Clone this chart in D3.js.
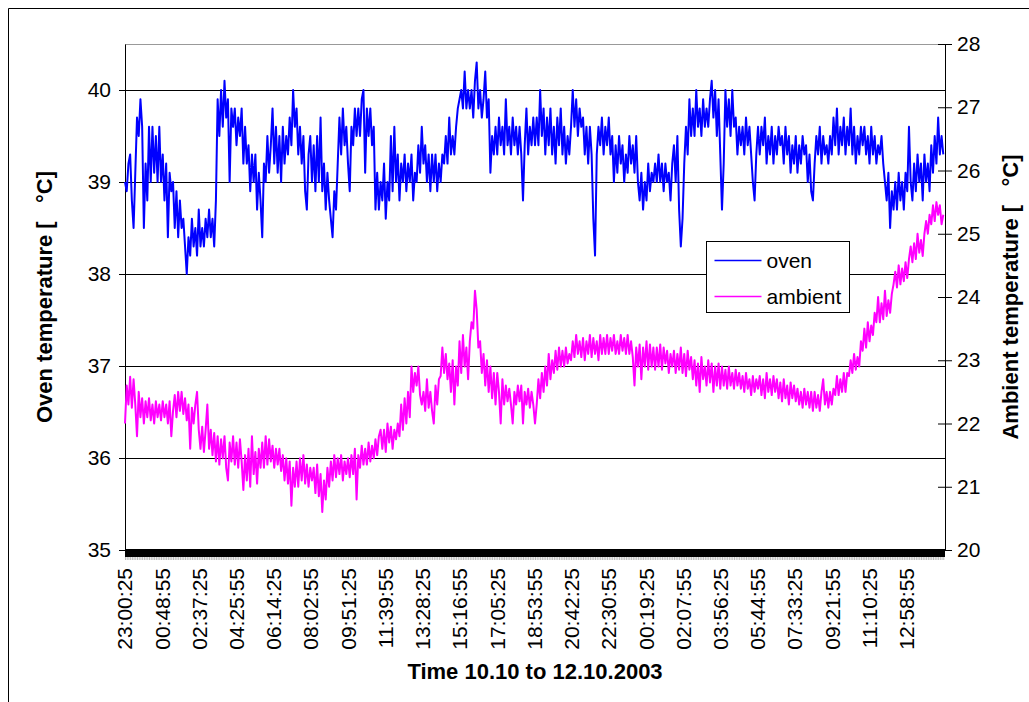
<!DOCTYPE html>
<html>
<head>
<meta charset="utf-8">
<script src="https://cdn.jsdelivr.net/npm/d3@7"></script>
<style>
  body { margin: 0; background: #fff; }
  text { font-family: "Liberation Sans", Arial, sans-serif; }
</style>
</head>
<body>
<svg id="chart" width="1029" height="702"></svg>
<script>
// category labels on the time axis (one every 1h48m30s)
const timeLabels = ["23:00:25","00:48:55","02:37:25","04:25:55","06:14:25","08:02:55","09:51:25",
  "11:39:55","13:28:25","15:16:55","17:05:25","18:53:55","20:42:25","22:30:55","00:19:25",
  "02:07:55","03:56:25","05:44:55","07:33:25","09:21:55","11:10:25","12:58:55"];
const labelStepMin = 108.5;
const sampleStepMin = 5;   // one reading every 5 min
const spanMin = 2390;

const ovenTicks = [35, 36, 37, 38, 39, 40];
const ambientTicks = [20, 21, 22, 23, 24, 25, 26, 27, 28];

// oven temperature, degC
const oven = [
  39.0,38.9,39.2,39.3,38.8,38.5,39.1,39.7,39.5,39.9,
  39.6,38.5,39.2,38.8,39.6,39.0,39.6,39.1,39.5,39.0,
  39.6,39.0,39.3,38.8,39.2,38.4,39.1,38.9,39.0,38.5,
  38.9,38.4,38.8,38.5,38.6,38.3,38.0,38.4,38.2,38.6,
  38.3,38.5,38.2,38.7,38.3,38.5,38.3,38.6,38.4,38.7,
  38.4,38.6,38.3,38.8,39.9,39.5,40.0,39.6,40.1,39.7,
  39.9,39.0,39.8,39.6,39.8,39.4,39.7,39.5,39.8,39.2,
  39.6,39.2,39.4,38.9,39.3,39.0,39.3,38.7,39.1,38.8,
  38.4,39.2,39.0,39.5,39.1,39.4,39.8,39.2,39.6,39.1,
  39.5,39.0,39.6,39.2,39.5,39.3,39.7,39.4,40.0,39.6,
  39.8,39.3,39.6,39.2,39.5,38.9,38.7,39.3,39.5,39.0,
  39.4,38.9,39.5,39.0,39.7,38.9,39.2,38.7,39.1,38.8,
  38.6,38.4,38.9,38.7,39.2,39.7,39.3,39.8,39.4,39.6,
  39.2,38.9,39.6,39.4,39.8,39.5,39.8,39.5,39.9,40.0,
  39.1,39.8,39.5,39.8,39.4,39.6,38.7,39.1,38.7,39.0,
  38.8,39.2,38.6,39.0,38.8,39.5,38.9,39.6,39.0,39.3,
  38.8,39.2,39.0,39.3,38.9,39.2,39.0,39.3,38.8,39.1,
  39.0,39.4,39.1,39.6,39.2,39.4,39.0,39.3,38.9,39.3,
  39.0,39.3,38.9,39.2,39.0,39.3,39.2,39.5,39.2,39.7,
  39.3,39.5,39.3,39.6,39.8,39.9,40.0,39.8,40.2,39.8,
  40.0,39.8,40.0,39.7,40.1,40.3,39.8,40.0,39.7,39.9,
  40.2,39.7,39.9,39.1,39.5,39.3,39.6,39.3,39.7,39.4,
  39.6,39.3,39.9,39.4,39.6,39.3,39.7,39.4,39.6,39.3,
  39.6,39.3,38.8,39.4,39.8,39.3,39.6,39.4,39.7,39.4,
  39.7,39.4,40.0,39.5,39.8,39.3,39.7,39.4,39.8,39.3,
  39.6,39.2,39.7,39.4,39.8,39.3,39.6,39.2,39.5,39.3,
  39.6,40.0,39.6,39.9,39.5,39.8,39.6,39.7,39.3,39.6,
  39.2,39.6,39.3,38.6,38.2,39.3,39.6,39.4,39.7,39.3,
  39.6,39.4,39.7,39.3,39.5,39.0,39.4,39.1,39.5,39.2,
  39.4,39.0,39.3,39.1,39.5,39.2,39.4,39.1,39.5,39.0,
  38.8,39.1,38.7,39.0,38.8,39.2,38.9,39.1,39.0,39.2,
  39.0,39.3,39.0,39.2,38.9,39.2,39.0,39.1,38.8,39.2,
  39.4,39.0,39.5,38.7,38.3,38.6,39.2,39.6,39.3,39.9,
  39.5,39.8,39.5,40.0,39.6,39.8,39.5,39.9,39.6,39.8,
  39.6,39.9,40.1,39.7,40.0,39.5,39.9,39.3,38.7,39.2,
  40.0,39.6,39.9,39.5,40.0,39.6,39.7,39.3,39.6,39.4,
  39.6,39.3,39.7,39.4,39.6,39.3,39.0,38.8,39.3,39.6,
  39.3,39.6,39.4,39.7,39.2,39.5,39.3,39.6,39.2,39.5,
  39.3,39.6,39.4,39.5,39.2,39.6,39.3,39.5,39.1,39.4,
  39.2,39.5,39.1,39.4,39.2,39.5,39.3,39.4,39.0,39.3,
  38.9,38.8,39.2,39.5,39.3,39.6,39.2,39.5,39.3,39.4,
  39.2,39.5,39.3,39.7,39.4,39.8,39.3,39.6,39.4,39.7,
  39.3,39.6,39.4,39.8,39.3,39.6,39.2,39.5,39.3,39.6,
  39.4,39.6,39.3,39.5,39.2,39.6,39.3,39.5,39.2,39.4,
  39.3,39.5,39.2,39.0,38.8,39.1,38.5,38.9,38.7,39.0,
  38.7,39.1,38.8,39.0,38.7,39.1,38.9,39.6,39.0,38.8,
  39.2,38.9,39.3,39.0,39.2,38.8,39.3,39.0,39.2,38.9,
  39.4,39.1,39.5,39.2,39.7,39.3,39.5,39.3
];

// ambient temperature, degC
const ambient = [
  22.0,22.6,22.3,22.74,22.25,22.7,22.3,21.8,22.5,22.1,
  22.4,22.0,22.35,22.1,22.4,22.05,22.3,22.0,22.35,22.1,
  22.3,22.05,22.35,22.1,22.3,22.0,22.35,21.8,22.2,22.45,
  22.1,22.5,22.2,22.5,22.15,22.4,22.05,22.3,21.6,22.25,
  22.0,22.3,22.5,21.9,21.6,21.95,21.55,21.9,22.3,21.6,
  21.9,21.5,21.85,21.4,21.8,21.35,21.75,21.45,21.8,21.3,
  21.1,21.7,21.4,21.8,21.35,21.7,21.3,21.75,21.4,20.95,
  21.5,21.1,21.6,21.0,21.8,21.2,21.55,21.05,21.6,21.3,
  21.7,21.3,21.8,21.35,21.75,21.4,21.65,21.3,21.6,21.35,
  21.6,21.25,21.5,21.1,21.45,21.05,21.4,20.7,21.3,21.0,
  21.4,21.0,21.45,21.1,21.5,21.05,21.35,21.0,21.3,21.1,
  21.3,20.9,21.35,20.85,21.2,20.6,21.1,20.8,21.3,21.0,
  21.4,21.1,21.5,21.15,21.45,21.2,21.5,21.1,21.4,21.2,
  21.45,21.15,21.5,21.2,21.6,20.8,21.5,21.3,21.65,21.35,
  21.6,21.35,21.7,21.4,21.65,21.45,21.75,21.5,21.8,21.9,
  21.6,21.9,21.55,22.0,21.7,21.95,21.6,21.9,21.75,22.0,
  21.8,22.3,21.9,22.4,22.0,22.5,22.1,22.9,22.5,22.8,
  22.6,22.9,22.45,22.3,22.5,22.2,22.7,22.25,22.5,22.2,
  22.0,22.6,22.3,22.7,22.75,23.2,22.8,23.1,22.7,22.95,
  22.5,23.0,22.3,22.9,22.6,23.3,22.8,23.4,22.9,23.2,
  22.7,23.3,23.6,23.5,24.1,23.8,23.2,23.3,22.8,23.1,
  22.6,23.0,22.5,22.9,22.4,22.8,22.3,22.8,22.5,22.0,
  22.7,22.3,22.6,22.35,22.55,22.3,22.0,22.5,22.3,22.6,
  22.35,22.6,22.0,22.5,22.3,22.55,22.25,22.5,22.3,22.0,
  22.3,22.7,22.4,22.8,22.5,22.9,22.6,23.1,22.7,23.0,
  22.8,23.15,22.85,23.2,22.9,23.15,22.9,23.2,22.95,23.1,
  23.0,23.3,23.05,23.4,23.1,23.3,23.05,23.35,23.0,23.3,
  23.1,23.4,23.05,23.35,23.1,23.3,23.0,23.4,23.1,23.35,
  23.1,23.4,23.1,23.35,23.15,23.4,23.1,23.3,23.1,23.4,
  23.15,23.35,23.1,23.4,23.1,23.3,23.05,22.6,23.2,22.9,
  23.25,22.7,23.2,22.9,23.3,22.85,23.25,22.9,23.2,22.85,
  23.2,22.9,23.25,22.85,23.2,22.95,23.15,22.8,23.1,22.9,
  23.15,22.8,23.1,22.85,23.2,22.8,23.1,22.75,23.15,22.85,
  23.05,22.7,23.0,22.6,22.95,22.5,23.05,22.7,22.9,22.6,
  23.0,22.65,22.95,22.5,22.9,22.6,22.95,22.55,22.9,22.6,
  22.85,22.55,22.9,22.6,22.8,22.55,22.85,22.6,22.8,22.55,
  22.75,22.5,22.8,22.55,22.7,22.45,22.75,22.5,22.7,22.55,
  22.75,22.45,22.7,22.4,22.8,22.5,22.7,22.45,22.75,22.5,
  22.7,22.4,22.65,22.35,22.7,22.4,22.6,22.3,22.65,22.4,
  22.6,22.35,22.55,22.3,22.5,22.25,22.55,22.3,22.5,22.25,
  22.5,22.2,22.5,22.25,22.45,22.2,22.5,22.7,22.3,22.5,
  22.25,22.5,22.3,22.55,22.45,22.75,22.45,22.7,22.5,22.8,
  22.5,22.8,22.75,23.0,22.8,23.1,22.85,23.05,22.9,23.3,
  23.15,23.5,23.2,23.6,23.3,23.55,23.4,23.75,23.6,24.0,
  23.6,23.9,23.65,24.1,23.7,23.95,23.75,24.05,24.2,24.4,
  24.15,24.5,24.2,24.45,24.25,24.55,24.3,24.6,24.8,24.55,
  24.85,24.6,25.0,24.7,24.9,24.65,25.0,25.2,25.0,25.3,
  25.15,25.45,25.2,25.5,25.3,25.45,25.15,25.3
];

const margin = {top: 44, right: 84, bottom: 152, left: 125};
const svg = d3.select('#chart');
const width = +svg.attr('width') - margin.left - margin.right;
const height = +svg.attr('height') - margin.top - margin.bottom;

// outer chart frame (only top and left edges are inside the picture)
svg.append('path')
  .attr('d', 'M8.5,702V8.5H1029')
  .attr('fill', 'none').attr('stroke', '#000');

const g = svg.append('g')
  .attr('transform', 'translate(' + margin.left + ',' + margin.top + ')');

const x = d3.scaleLinear().domain([0, spanMin]).range([0, width]);
const yOven = d3.scaleLinear().domain([35, 40.5]).range([height, 0]);
const yAmb = d3.scaleLinear().domain([20, 28]).range([height, 0]);

// plot area top edge
g.append('line')
  .attr('x1', 0).attr('x2', width).attr('y1', 0.5).attr('y2', 0.5)
  .attr('stroke', '#999');

// gridlines
g.selectAll('.grid').data(ovenTicks.filter(d => d > 35))
  .enter().append('line')
  .attr('class', 'grid')
  .attr('x1', 0).attr('x2', width)
  .attr('y1', d => Math.round(yOven(d)) + 0.5)
  .attr('y2', d => Math.round(yOven(d)) + 0.5)
  .attr('stroke', '#000');

// left axis
const axL = g.append('g')
  .call(d3.axisLeft(yOven).tickValues(ovenTicks).tickFormat(d3.format('d'))
    .tickSize(6).tickSizeOuter(0).tickPadding(8));
axL.selectAll('text').style('font-size', '21px').attr('fill', '#000');

// right axis, ticks cross the line
const axR = g.append('g')
  .attr('transform', 'translate(' + width + ',0)')
  .call(d3.axisRight(yAmb).tickValues(ambientTicks).tickFormat(d3.format('d'))
    .tickSize(7).tickSizeOuter(0).tickPadding(5));
axR.selectAll('.tick line').attr('x1', -7);
axR.selectAll('text').style('font-size', '21px').attr('fill', '#000');

// series
const line = (scale) => d3.line()
  .x((d, i) => x(i * sampleStepMin))
  .y(d => scale(d));

g.append('path').datum(ambient)
  .attr('fill', 'none').attr('stroke', '#ff00ff').attr('stroke-width', 2)
  .attr('stroke-linejoin', 'round')
  .attr('d', line(yAmb));

g.append('path').datum(oven)
  .attr('fill', 'none').attr('stroke', '#0000ff').attr('stroke-width', 2)
  .attr('stroke-linejoin', 'round')
  .attr('d', line(yOven));

// category axis: every sample has a tick, which Excel draws as a solid band
const sampleTimes = oven.map((d, i) => i * sampleStepMin);
g.append('rect')
  .attr('x', x.range()[0]).attr('width', x.range()[1] - x.range()[0])
  .attr('y', height - 1).attr('height', 8)
  .attr('fill', '#000');
const axB = g.append('g')
  .attr('transform', 'translate(0,' + (height + 7) + ')')
  .call(d3.axisBottom(x).tickValues(sampleTimes).tickSize(3).tickFormat(''));
axB.select('.domain').remove();
axB.selectAll('.tick line').attr('stroke', '#bbb');

g.selectAll('.xlab').data(timeLabels)
  .enter().append('text')
  .attr('class', 'xlab')
  .attr('transform', (d, i) => 'translate(' + x(i * labelStepMin) + ',' + (height + 18) + ') rotate(-90)')
  .attr('dy', '0.35em')
  .attr('text-anchor', 'end')
  .style('font-size', '21px')
  .text(d => d);

// axis titles
svg.append('text')
  .attr('transform', 'translate(52,' + (margin.top + height / 2) + ') rotate(-90)')
  .attr('text-anchor', 'middle')
  .style('font-size', '22px').style('font-weight', 'bold')
  .attr('xml:space', 'preserve')
  .text('Oven temperature [   °C]');

svg.append('text')
  .attr('transform', 'translate(1018,' + (margin.top + height / 2) + ') rotate(-90)')
  .attr('text-anchor', 'middle')
  .style('font-size', '22px').style('font-weight', 'bold')
  .attr('xml:space', 'preserve')
  .text('Ambient temperature [   °C]');

svg.append('text')
  .attr('x', margin.left + width / 2).attr('y', 679)
  .attr('text-anchor', 'middle')
  .style('font-size', '22px').style('font-weight', 'bold')
  .text('Time 10.10 to 12.10.2003');

// legend
const legend = svg.append('g').attr('transform', 'translate(706.5,241.5)');
legend.append('rect')
  .attr('width', 143).attr('height', 71)
  .attr('fill', '#fff').attr('stroke', '#000');
const items = [{name: 'oven', color: '#0000ff'}, {name: 'ambient', color: '#ff00ff'}];
const li = legend.selectAll('.li').data(items).enter().append('g')
  .attr('transform', (d, i) => 'translate(0,' + (19 + i * 36) + ')');
li.append('line').attr('x1', 8).attr('x2', 55)
  .attr('stroke', d => d.color).attr('stroke-width', 1.6);
li.append('text').attr('x', 60).attr('dy', '0.35em')
  .style('font-size', '21px')
  .text(d => d.name);
</script>
</body>
</html>
